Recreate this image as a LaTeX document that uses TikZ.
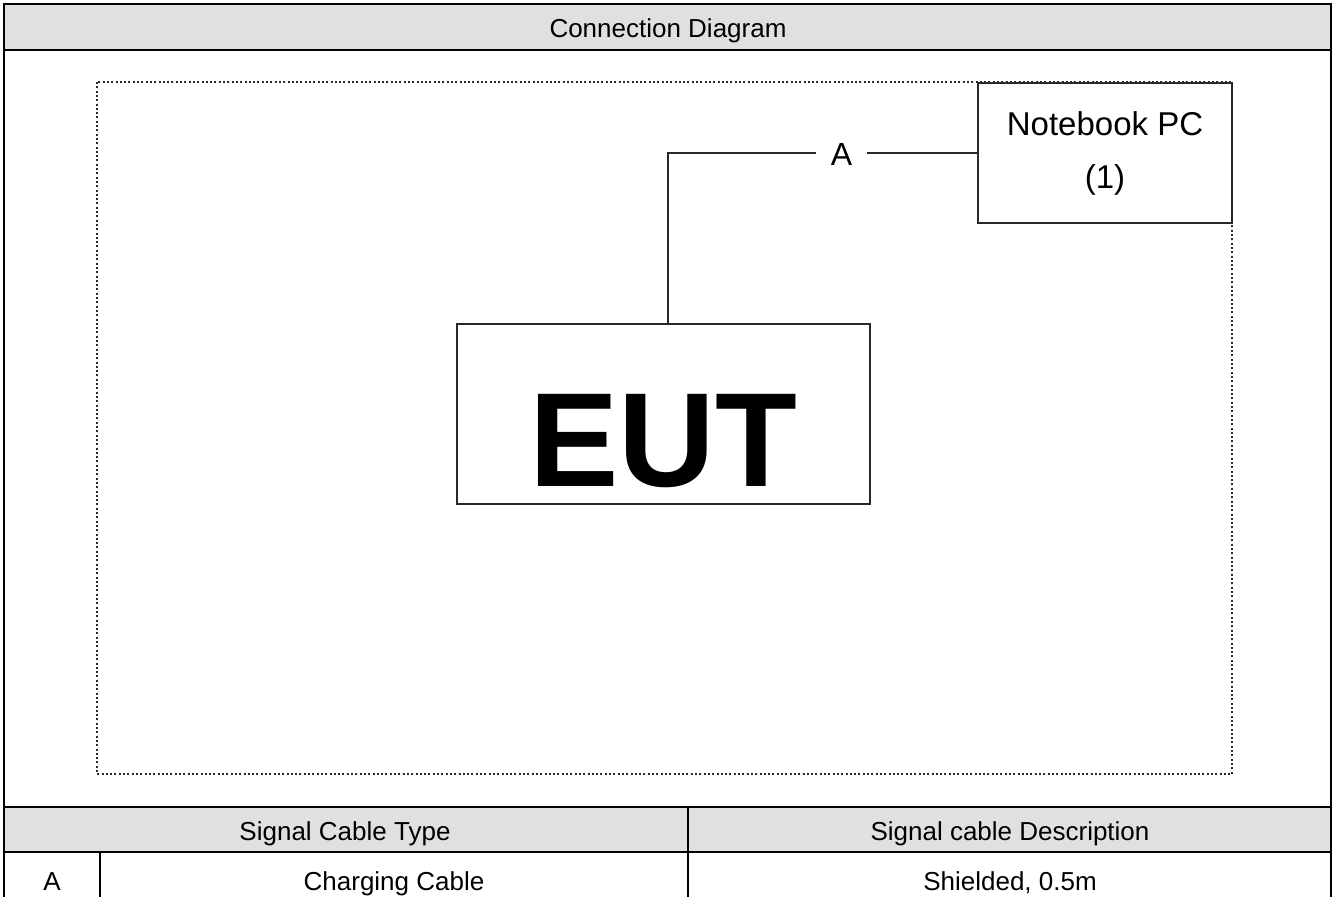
\documentclass[tikz,border=0pt]{standalone}
\usepackage{fontspec}
\setmainfont{Liberation Sans}
\usetikzlibrary{positioning}
\definecolor{HeaderGray}{RGB}{224,224,224}
\definecolor{InkGray}{RGB}{40,40,40}

\tikzset{
  frameline/.style={line width=2.5pt},
  boxline/.style={draw=InkGray, line width=1.8pt, inner sep=0pt},
  dotframe/.style={draw=InkGray, line width=2.4pt, dash pattern=on 2pt off 2.3pt},
  celltext/.style={font=\fontsize{26}{30}\selectfont, anchor=base},
}

\begin{document}
\begin{tikzpicture}[x=1pt, y=-1pt, every node/.style={align=center}]
  \useasboundingbox (0,0) rectangle (1338,897);
  % Shaded header rows
  \fill[HeaderGray] (4,4) rectangle (1331,50);
  \fill[HeaderGray] (4,807) rectangle (1331,852);
  % Outer frame and table rules
  \draw[frameline] (4,897) -- (4,4) -- (1331,4) -- (1331,897);
  \draw[frameline] (4,50) -- (1331,50);
  \draw[frameline] (4,807) -- (1331,807);
  \draw[frameline] (4,852) -- (1331,852);
  \draw[frameline] (688,807) -- (688,897);
  \draw[frameline] (100,852) -- (100,897);
  \node[celltext] (title) at (668,37) {Connection Diagram};
  % Test area boundary
  \draw[dotframe] (97,82) rectangle (1232,774);
  % Equipment
  \node[boxline, fill=white, minimum width=254pt, minimum height=140pt,
        font=\fontsize{33}{53}\selectfont] (nb) at (1105,153) {Notebook PC\\(1)};
  \node[boxline, minimum width=413pt, minimum height=180pt, text height=144pt, text depth=0pt,
        font=\fontsize{134}{140}\selectfont\bfseries] (eut) at (663.5,414) {EUT};
  % Cable A
  \node[font=\fontsize{32}{36}\selectfont, inner xsep=15pt, inner ysep=0pt] (lblA) at (841.5,154) {A};
  \coordinate (bend) at (668,153);
  \draw[InkGray, line width=1.8pt] (eut.north -| bend) -- (bend) -- (lblA.west |- bend);
  \draw[InkGray, line width=1.8pt] (lblA.east |- bend) -- (nb.west |- bend);
  % Cable table
  \node[celltext] (typehead) at (345,840) {Signal Cable Type};
  \node[celltext] (deschead) at (1010,840) {Signal cable Description};
  \node[celltext] (idA) at (52,890) {A};
  \node[celltext] (typeA) at (394,890) {Charging Cable};
  \node[celltext] (descA) at (1010,890) {Shielded, 0.5m};
\end{tikzpicture}
\end{document}
